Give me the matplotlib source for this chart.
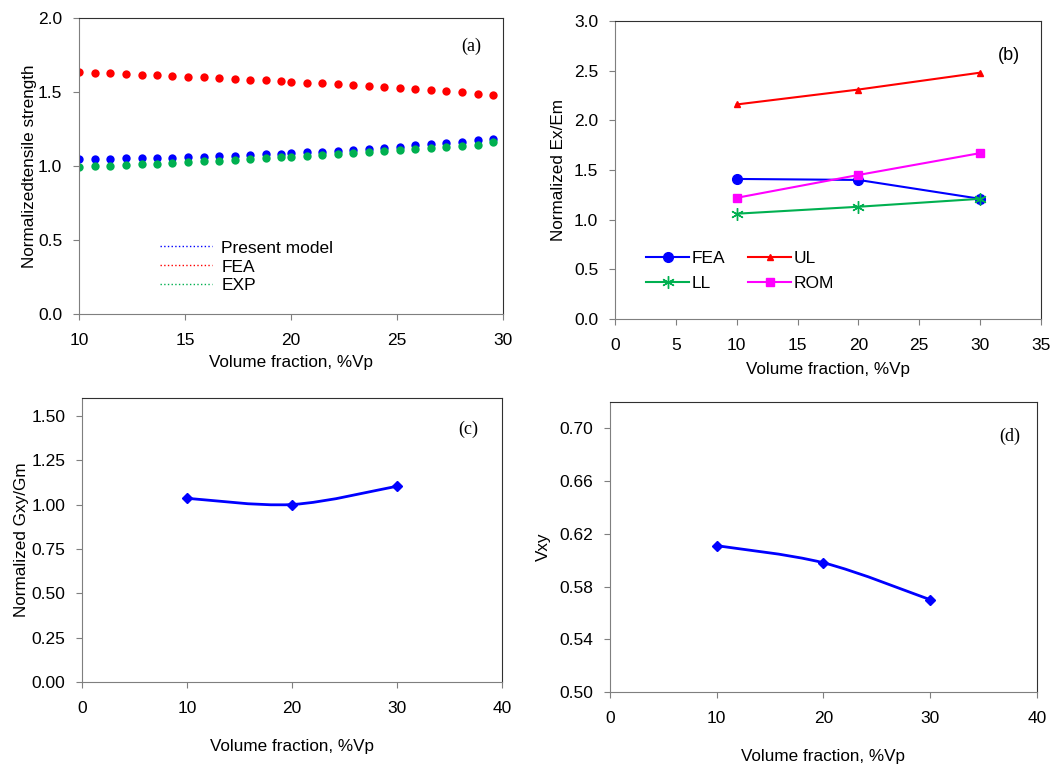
import numpy as np
import matplotlib
matplotlib.use("Agg")
import matplotlib.pyplot as plt
from matplotlib.lines import Line2D
from matplotlib.path import Path
from matplotlib.patches import PathPatch

plt.rcParams['font.family'] = ['Liberation Sans', 'DejaVu Sans']

# ---- data: (a) normalized tensile strength ----
vp_a = [10.0, 10.75, 11.48, 12.22, 12.95, 13.68, 14.41, 15.15, 15.88, 16.61,
        17.35, 18.09, 18.83, 19.55, 20.02, 20.75, 21.48, 22.22, 22.95, 23.68,
        24.41, 25.13, 25.87, 26.61, 27.33, 28.07, 28.81, 29.53]
fea_a = [1.633, 1.630, 1.626, 1.622, 1.618, 1.614, 1.609, 1.604, 1.599, 1.594,
         1.589, 1.584, 1.579, 1.574, 1.570, 1.564, 1.558, 1.552, 1.546, 1.540,
         1.533, 1.526, 1.519, 1.512, 1.505, 1.497, 1.489, 1.480]
model_a = [1.047, 1.048, 1.049, 1.051, 1.053, 1.055, 1.057, 1.060, 1.063, 1.066,
           1.070, 1.074, 1.078, 1.083, 1.087, 1.092, 1.098, 1.104, 1.110, 1.117,
           1.124, 1.131, 1.139, 1.147, 1.156, 1.165, 1.175, 1.185]
exp_a = [0.993, 0.997, 1.001, 1.006, 1.011, 1.016, 1.021, 1.026, 1.031, 1.036,
         1.042, 1.047, 1.052, 1.058, 1.062, 1.068, 1.074, 1.080, 1.086, 1.093,
         1.099, 1.106, 1.113, 1.120, 1.127, 1.135, 1.143, 1.160]

# ---- data: (b) normalized Ex/Em ----
vp_b = [10, 20, 30]
fea_b = [1.41, 1.40, 1.21]
ul_b = [2.16, 2.31, 2.48]
ll_b = [1.06, 1.13, 1.21]
rom_b = [1.22, 1.45, 1.67]

# ---- data: (c) Gxy/Gm and (d) Vxy ----
vp_c = [10, 20, 30]
gxy_c = [1.035, 1.00, 1.103]
vp_d = [10, 20, 30]
vxy_d = [0.611, 0.598, 0.570]

RED = '#ff0000'
BLUE = '#0000ff'
GREEN = '#00b050'
MAGENTA = '#ff00ff'
TICK_FS = 12.5
LABEL_FS = 12.3


def style_axes(ax):
    for side in ['left', 'bottom']:
        ax.spines[side].set_color('#7f7f7f')
    for side in ['top', 'right']:
        ax.spines[side].set_color('#303030')
    ax.tick_params(direction='out', length=4, color='#7f7f7f',
                   labelsize=TICK_FS, right=False, top=False)
    ax.tick_params(axis='x', pad=10)
    ax.tick_params(axis='y', pad=8)


def smooth_line(ax, x, y, color, lw):
    # Catmull-Rom style bezier through the points (like excel smoothed lines)
    pts = np.column_stack([x, y]).astype(float)
    verts = [tuple(pts[0])]
    codes = [Path.MOVETO]
    n = len(pts)
    for i in range(n - 1):
        p0 = pts[i - 1] if i > 0 else pts[i]
        p1 = pts[i]
        p2 = pts[i + 1]
        p3 = pts[i + 2] if i + 2 < n else pts[i + 1]
        c1 = p1 + (p2 - p0) / 6.0
        c2 = p2 - (p3 - p1) / 6.0
        verts += [tuple(c1), tuple(c2), tuple(p2)]
        codes += [Path.CURVE4] * 3
    ax.add_patch(PathPatch(Path(verts, codes), facecolor='none',
                           edgecolor=color, lw=lw))


fig = plt.figure(figsize=(10.52, 7.67), dpi=100)

# (a)
ax1 = fig.add_axes([0.0751, 0.5906, 0.4029, 0.3859])
ax1.plot(vp_a, fea_a, 'o', color=RED, ms=6, mec='none')
ax1.plot(vp_a, model_a, 'o', color=BLUE, ms=6, mec='none')
ax1.plot(vp_a, exp_a, 'o', color=GREEN, ms=6, mec='none')
ax1.set_xlim(10, 30)
ax1.set_ylim(0, 2.0)
ax1.set_xticks([10, 15, 20, 25, 30])
ax1.set_yticks(np.arange(0, 2.01, 0.5))
ax1.yaxis.set_major_formatter(matplotlib.ticker.FormatStrFormatter('%.1f'))
ax1.set_xlabel('Volume fraction, %Vp', fontsize=LABEL_FS, labelpad=5)
ax1.set_ylabel('Normalizedtensile strength', fontsize=LABEL_FS, labelpad=1)
handles = [Line2D([], [], color=BLUE, ls=':', lw=1),
           Line2D([], [], color=RED, ls=':', lw=1),
           Line2D([], [], color=GREEN, ls=':', lw=1)]
ax1.legend(handles, ['Present model', 'FEA', 'EXP'], loc='lower left',
           bbox_to_anchor=(0.17, 0.04), frameon=False, fontsize=12.5,
           handlelength=3.0, labelspacing=0.22, borderpad=0, handletextpad=0.55)
ax1.text(0.925, 0.905, '(a)', transform=ax1.transAxes, ha='center', va='center',
         fontsize=13, family='Liberation Serif')
style_axes(ax1)

# (b)
ax2 = fig.add_axes([0.5846, 0.5841, 0.4049, 0.3885])
l_fea, = ax2.plot(vp_b, fea_b, '-o', color=BLUE, lw=1.5, ms=7)
l_ul, = ax2.plot(vp_b, ul_b, '-^', color=RED, lw=1.5, ms=5)
l_ll, = ax2.plot(vp_b, ll_b, '-', marker=(6, 2, 0), color=GREEN, lw=1.5,
                 ms=9, mew=1.0)
l_rom, = ax2.plot(vp_b, rom_b, '-s', color=MAGENTA, lw=1.5, ms=5.5)
ax2.set_xlim(0, 35)
ax2.set_ylim(0, 3.0)
ax2.set_xticks(np.arange(0, 36, 5))
ax2.set_yticks(np.arange(0, 3.01, 0.5))
ax2.yaxis.set_major_formatter(matplotlib.ticker.FormatStrFormatter('%.1f'))
ax2.set_xlabel('Volume fraction, %Vp', fontsize=LABEL_FS, labelpad=6)
ax2.set_ylabel('Normalized Ex/Em', fontsize=LABEL_FS, labelpad=6)
ax2.legend([l_fea, l_ll, l_ul, l_rom], ['FEA', 'LL', 'UL', 'ROM'], ncol=2,
           loc='lower left', bbox_to_anchor=(0.052, 0.065),
           frameon=False, fontsize=12.5, handlelength=2.5,
           columnspacing=1.3, labelspacing=0.55, borderpad=0, handletextpad=0.15)
ax2.text(0.925, 0.883, '(b)', transform=ax2.transAxes, ha='center', va='center',
         fontsize=13)
style_axes(ax2)

# (c)
ax3 = fig.add_axes([0.0779, 0.1108, 0.3993, 0.3703])
smooth_line(ax3, vp_c, gxy_c, BLUE, 2)
ax3.plot(vp_c, gxy_c, 'D', color=BLUE, ms=5.5, ls='none')
ax3.set_xlim(0, 40)
ax3.set_ylim(0, 1.6)
ax3.set_xticks([0, 10, 20, 30, 40])
ax3.set_yticks(np.arange(0, 1.51, 0.25))
ax3.yaxis.set_major_formatter(matplotlib.ticker.FormatStrFormatter('%.2f'))
ax3.set_xlabel('Volume fraction, %Vp', fontsize=LABEL_FS, labelpad=16)
ax3.set_ylabel('Normalized Gxy/Gm', fontsize=LABEL_FS, labelpad=2)
ax3.text(0.919, 0.89, '(c)', transform=ax3.transAxes, ha='center', va='center',
         fontsize=13, family='Liberation Serif')
style_axes(ax3)

# (d)
ax4 = fig.add_axes([0.5798, 0.0978, 0.4059, 0.3781])
smooth_line(ax4, vp_d, vxy_d, BLUE, 2)
ax4.plot(vp_d, vxy_d, 'D', color=BLUE, ms=5.5, ls='none')
ax4.set_xlim(0, 40)
ax4.set_ylim(0.5, 0.72)
ax4.set_xticks([0, 10, 20, 30, 40])
ax4.set_yticks(np.arange(0.5, 0.701, 0.04))
ax4.yaxis.set_major_formatter(matplotlib.ticker.FormatStrFormatter('%.2f'))
ax4.set_xlabel('Volume fraction, %Vp', fontsize=LABEL_FS, labelpad=16)
ax4.set_ylabel('Vxy', fontsize=LABEL_FS, labelpad=6)
ax4.text(0.937, 0.883, '(d)', transform=ax4.transAxes, ha='center', va='center',
         fontsize=13, family='Liberation Serif')
style_axes(ax4)

fig.savefig('out.png', dpi=100)
